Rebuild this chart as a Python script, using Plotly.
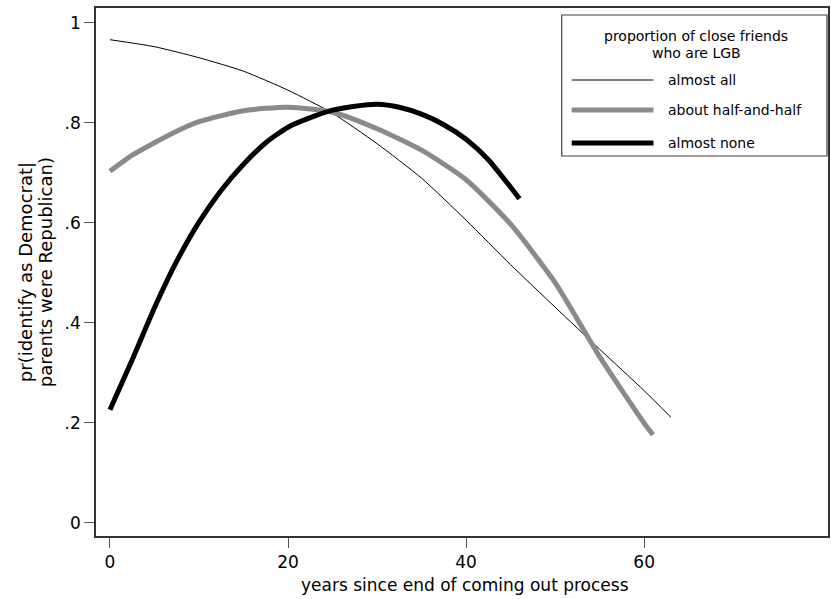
import plotly.graph_objects as go

# ---- data ----
x_all = [0, 5, 10, 15, 20, 25, 30, 35, 40, 45, 50, 55, 60, 63]
y_all = [0.966, 0.952, 0.930, 0.903, 0.865, 0.819, 0.758, 0.689, 0.605, 0.516, 0.431, 0.347, 0.264, 0.211]

x_half = [0, 2.5, 5, 7.5, 10, 15, 20, 25, 30, 35, 40, 45, 50, 55, 60, 61]
y_half = [0.703, 0.735, 0.760, 0.783, 0.802, 0.824, 0.831, 0.821, 0.788, 0.745, 0.686, 0.597, 0.480, 0.332, 0.199, 0.176]

x_none = [0, 2.5, 5, 7.5, 10, 12.5, 15, 17.5, 20, 22.5, 25, 27.5, 30, 32.5, 35, 37.5, 40, 42.5, 45, 46]
y_none = [0.226, 0.326, 0.430, 0.523, 0.601, 0.665, 0.717, 0.760, 0.791, 0.810, 0.825, 0.833, 0.837, 0.831, 0.817, 0.796, 0.767, 0.726, 0.671, 0.648]

series_names = ["almost all", "about half-and-half", "almost none"]
legend_title = ["proportion of close friends", "who are LGB"]
x_title = "years since end of coming out process"
y_title = ["pr(identify as Democrat|", "parents were Republican)"]

x_ticks = [0, 20, 40, 60]
y_ticks = [0, 0.2, 0.4, 0.6, 0.8, 1]
y_ticktext = ["0", ".2", ".4", ".6", ".8", "1"]

FONT = "DejaVu Sans"
GRAY = "#8a8a8a"

# ---- figure ----
W, H = 831, 599
L, R, T, B = 96, 1, 8, 63
pw, ph = W - L - R, H - T - B

def px_x(p):
    return (p - L) / pw

def px_y(p):
    return (H - B - p) / ph

fig = go.Figure()
fig.add_trace(go.Scatter(x=x_all, y=y_all, mode="lines", name=series_names[0],
                         line=dict(color="black", width=1, shape="spline", smoothing=0.6)))
fig.add_trace(go.Scatter(x=x_half, y=y_half, mode="lines", name=series_names[1],
                         line=dict(color=GRAY, width=5, shape="spline", smoothing=0.6)))
fig.add_trace(go.Scatter(x=x_none, y=y_none, mode="lines", name=series_names[2],
                         line=dict(color="black", width=5, shape="spline", smoothing=0.6)))

fig.update_layout(
    width=W, height=H,
    margin=dict(l=L, r=R, t=T, b=B),
    paper_bgcolor="white", plot_bgcolor="white",
    showlegend=False,
    font=dict(family=FONT, color="black"),
    xaxis=dict(range=[-1.568, 80.65], tickvals=x_ticks, ticks="outside", ticklen=10,
               tickcolor="#555555", tickwidth=1.2, showgrid=False, zeroline=False,
               showline=True, mirror=True, linecolor="#333333", linewidth=1.5,
               tickfont=dict(size=17, family=FONT)),
    yaxis=dict(range=[-0.0266, 1.0294], tickvals=y_ticks, ticktext=y_ticktext,
               ticks="outside", ticklen=10, tickcolor="#555555", tickwidth=1.2,
               showgrid=False, zeroline=False, showline=True, mirror=True,
               linecolor="#333333", linewidth=1.5, tickfont=dict(size=17, family=FONT)),
)

# axis titles
fig.add_annotation(text=x_title, xref="paper", yref="paper",
                   x=px_x(466), y=px_y(585), xanchor="center", yanchor="middle",
                   showarrow=False, font=dict(size=17, family=FONT))
for t, xx in zip(y_title, [25, 45]):
    fig.add_annotation(text=t, xref="paper", yref="paper",
                       x=px_x(xx), y=px_y(272), xanchor="center", yanchor="middle", textangle=-90,
                       showarrow=False, font=dict(size=18, family=FONT))

# legend box (manual, Stata style)
fig.add_shape(type="rect", xref="paper", yref="paper",
              x0=px_x(563), x1=px_x(829), y0=px_y(156), y1=px_y(15),
              line=dict(color="#404040", width=1.2), fillcolor="white")
for t, yy in zip(legend_title, [36, 53]):
    fig.add_annotation(text=t, xref="paper", yref="paper", x=px_x(698), y=px_y(yy),
                       xanchor="center", yanchor="middle", showarrow=False,
                       font=dict(size=14, family=FONT))
row_y = [80, 110, 143]
row_style = [("black", 1), (GRAY, 5), ("black", 5)]
for name, yy, (c, w) in zip(series_names, row_y, row_style):
    fig.add_shape(type="line", xref="paper", yref="paper",
                  x0=px_x(573), x1=px_x(655), y0=px_y(yy), y1=px_y(yy),
                  line=dict(color=c, width=w))
    fig.add_annotation(text=name, xref="paper", yref="paper", x=px_x(668), y=px_y(yy),
                       xanchor="left", yanchor="middle", showarrow=False,
                       font=dict(size=14, family=FONT))

fig.write_html("out.html", config={"displayModeBar": False},
               post_script="document.body.style.margin='0';document.body.style.overflow='hidden';")
